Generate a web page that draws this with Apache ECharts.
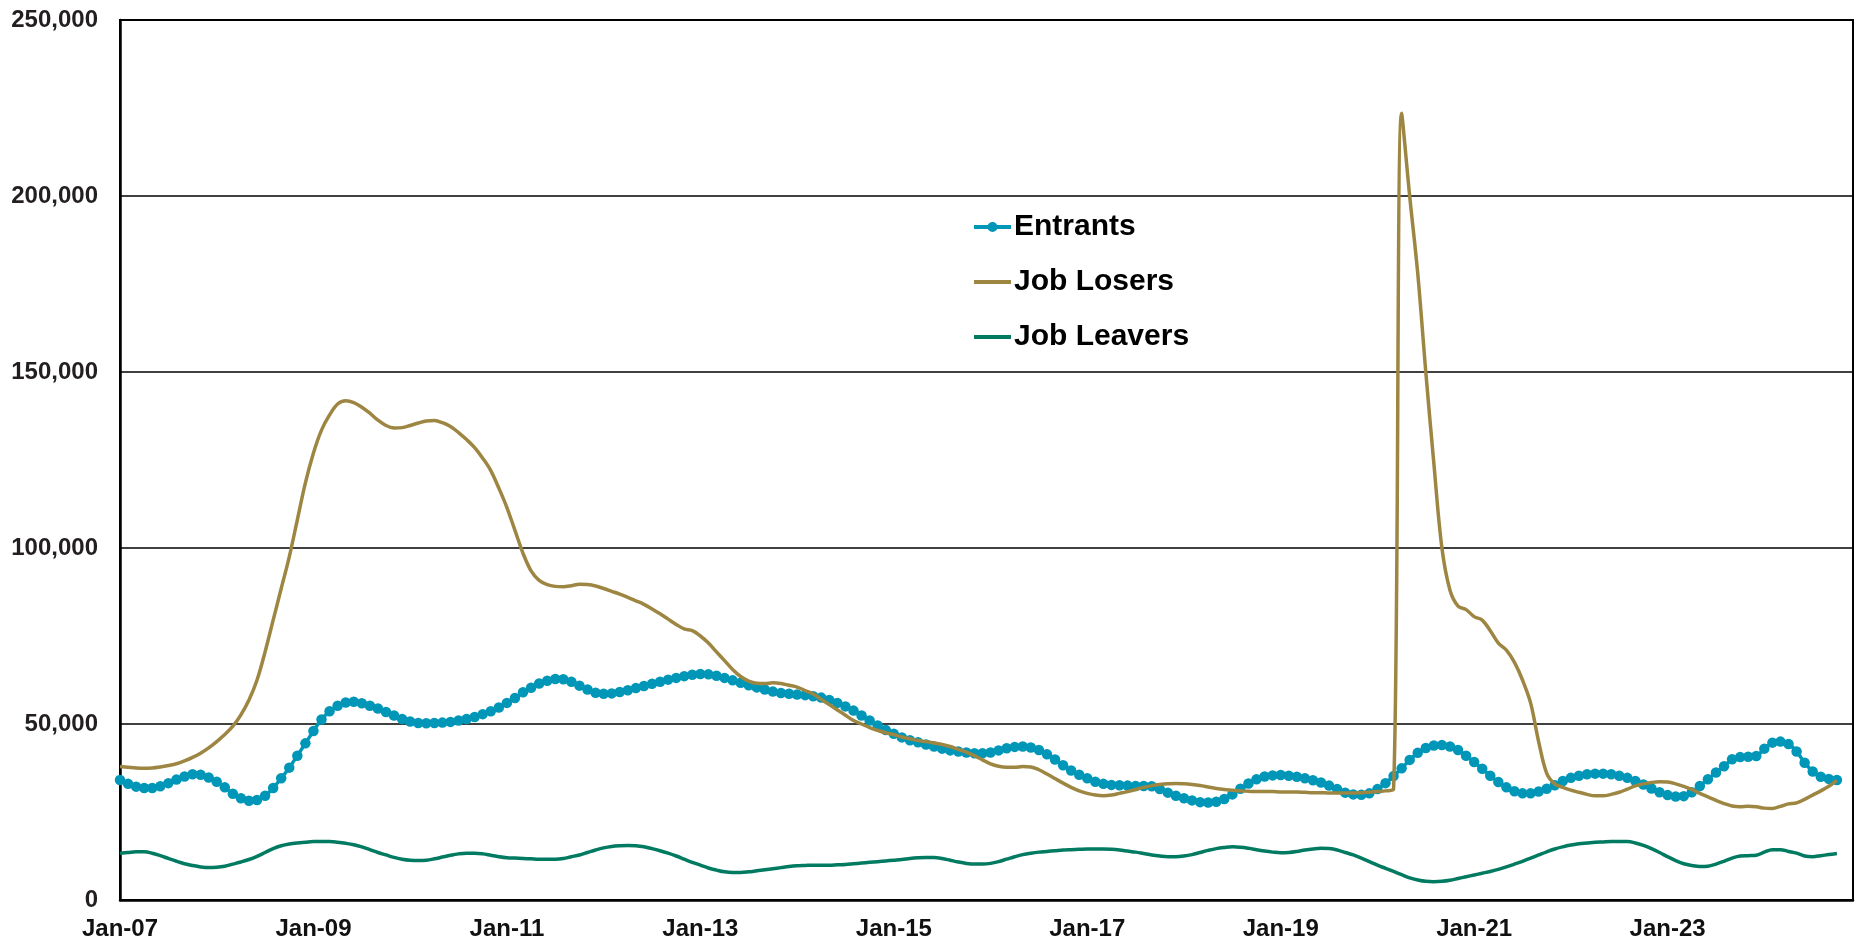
<!DOCTYPE html>
<html>
<head>
<meta charset="utf-8">
<script src="https://cdn.jsdelivr.net/npm/echarts@6/dist/echarts.min.js"></script>
<style>
html,body{margin:0;padding:0;background:#fff;}
#chart{width:1856px;height:945px;}
</style>
</head>
<body>
<div id="chart"></div>
<script>
// Monthly categories Jan-07 .. Dec-24 (data runs Jan-07 .. Oct-24)
const monthNames = ['Jan','Feb','Mar','Apr','May','Jun','Jul','Aug','Sep','Oct','Nov','Dec'];
const startYear = 2007, endYear = 2024;
const categories = [];
for (let y = startYear; y <= endYear; y++) {
  for (let m = 0; m < 12; m++) categories.push(monthNames[m] + '-' + String(y % 100).padStart(2, '0'));
}

// Values in thousands
const entrants = [
34.1,33.0,32.2,31.8,31.8,32.3,33.2,34.2,35.1,35.7,35.6,34.8,
33.6,32.0,30.2,28.9,28.2,28.4,29.6,31.8,34.6,37.6,41.0,44.5,
48.0,51.3,53.6,55.2,56.1,56.3,55.9,55.2,54.4,53.4,52.4,51.4,
50.7,50.3,50.2,50.3,50.4,50.6,51.0,51.4,52.0,52.8,53.6,54.7,
56.0,57.4,59.0,60.3,61.5,62.3,62.8,62.7,62.0,60.9,59.8,58.9,
58.6,58.7,59.1,59.6,60.2,60.8,61.4,62.0,62.6,63.1,63.6,64.0,
64.2,64.1,63.7,63.1,62.4,61.7,61.0,60.4,59.8,59.2,58.8,58.6,
58.4,58.2,57.9,57.5,56.8,56.0,55.0,53.8,52.4,51.0,49.6,48.3,
47.2,46.2,45.4,44.8,44.2,43.6,43.0,42.5,42.2,41.9,41.7,41.7,
41.9,42.5,43.1,43.5,43.6,43.3,42.6,41.4,39.9,38.3,36.8,35.6,
34.6,33.6,33.0,32.7,32.6,32.5,32.4,32.4,32.3,31.5,30.5,29.6,
28.9,28.3,27.8,27.7,27.9,28.7,30.0,31.6,33.1,34.3,35.1,35.4,
35.5,35.3,35.0,34.6,34.0,33.4,32.5,31.5,30.5,30.0,29.9,30.3,
31.5,33.2,35.2,37.4,39.8,41.8,43.2,43.9,44.0,43.6,42.6,41.0,
39.2,37.3,35.3,33.5,32.0,30.9,30.3,30.3,30.8,31.6,32.6,33.8,
34.7,35.3,35.7,35.9,35.9,35.7,35.3,34.7,33.8,32.8,31.7,30.6,
29.8,29.4,29.5,30.6,32.4,34.3,36.2,38.0,40.0,40.6,40.7,40.9,
43.0,44.7,45.0,44.3,42.2,39.0,36.5,35.0,34.4,34.1
];

const jobLosers = [
37.9,37.7,37.5,37.4,37.5,37.8,38.2,38.7,39.5,40.5,41.7,43.2,
45.0,47.0,49.4,52.6,56.8,62.5,70.5,79.5,88.5,97.5,108.0,118.5,
127.0,133.5,137.8,140.9,141.8,141.3,140.0,138.3,136.3,134.8,134.1,134.2,
134.8,135.5,136.1,136.2,135.6,134.5,132.8,130.8,128.5,125.5,122.0,117.0,
111.5,105.0,98.5,93.5,90.8,89.6,89.1,89.0,89.3,89.7,89.6,89.2,
88.5,87.7,86.9,86.0,85.0,84.0,82.7,81.3,79.8,78.3,77.0,76.5,
75.0,73.0,70.5,68.0,65.5,63.5,62.2,61.6,61.5,61.7,61.5,61.0,
60.5,59.5,58.5,57.0,55.5,54.0,52.5,51.0,50.0,49.0,48.2,47.5,
47.0,46.3,45.8,45.3,45.0,44.6,44.2,43.6,42.8,42.0,41.0,39.8,
38.7,38.0,37.7,37.7,37.9,37.8,37.0,35.8,34.5,33.2,32.0,31.0,
30.3,29.8,29.6,29.8,30.3,30.8,31.4,32.0,32.5,32.8,33.0,33.1,
33.0,32.8,32.5,32.1,31.7,31.4,31.2,31.0,30.9,30.8,30.8,30.8,
30.7,30.7,30.7,30.6,30.5,30.5,30.4,30.4,30.4,30.4,30.5,30.6,
30.8,31.0,31.5,223.5,200.0,178.0,150.0,124.0,100.0,88.0,83.5,82.5,
80.5,79.5,76.5,73.0,71.0,67.5,62.5,56.0,45.0,36.0,33.0,32.0,
31.2,30.6,30.0,29.6,29.6,30.0,30.6,31.5,32.4,33.0,33.4,33.6,
33.5,33.0,32.3,31.4,30.3,29.3,28.3,27.4,26.7,26.5,26.6,26.5,
26.1,26.0,26.6,27.3,27.6,28.6,29.8,31.0,32.3,34.0
];

const jobLeavers = [
13.3,13.5,13.7,13.7,13.3,12.6,11.8,11.0,10.3,9.8,9.4,9.2,
9.3,9.6,10.2,10.8,11.5,12.4,13.5,14.6,15.4,15.9,16.2,16.4,
16.6,16.6,16.6,16.4,16.1,15.7,15.1,14.3,13.5,12.8,12.1,11.6,
11.3,11.2,11.3,11.7,12.2,12.7,13.1,13.3,13.3,13.1,12.7,12.3,
12.0,11.9,11.8,11.7,11.6,11.6,11.6,11.8,12.3,12.8,13.5,14.2,
14.8,15.2,15.4,15.5,15.4,15.1,14.6,14.0,13.3,12.5,11.6,10.7,
9.9,9.1,8.5,8.0,7.8,7.8,8.0,8.3,8.6,8.9,9.2,9.5,
9.7,9.8,9.9,9.9,9.9,10.0,10.1,10.3,10.5,10.7,10.9,11.1,
11.3,11.5,11.8,12.0,12.1,12.1,11.8,11.3,10.8,10.4,10.2,10.2,
10.4,10.9,11.6,12.3,12.9,13.3,13.6,13.8,14.0,14.2,14.3,14.4,
14.5,14.5,14.5,14.4,14.2,13.9,13.6,13.2,12.8,12.5,12.3,12.3,
12.5,12.9,13.5,14.1,14.6,14.9,15.1,15.0,14.7,14.3,13.9,13.6,
13.4,13.5,13.8,14.2,14.5,14.7,14.6,14.2,13.5,12.8,11.9,10.9,
9.9,9.0,8.1,7.2,6.3,5.7,5.3,5.2,5.3,5.6,6.1,6.6,
7.1,7.6,8.1,8.7,9.4,10.2,11.0,11.9,12.8,13.7,14.5,15.1,
15.6,16.0,16.2,16.4,16.5,16.6,16.6,16.6,16.2,15.5,14.6,13.5,
12.3,11.2,10.3,9.8,9.5,9.6,10.2,11.0,11.9,12.5,12.6,12.7,
13.6,14.3,14.3,13.8,13.3,12.5,12.3,12.6,12.9,13.2
];

const seriesNames = ['Entrants', 'Job Losers', 'Job Leavers'];
const yTicks = { min: 0, max: 250000, interval: 50000 };
const colors = ['#0096b7', '#9d8542', '#007a60'];

const toUnits = a => a.map(v => Math.round(v * 1000));
const fontFam = '"Liberation Sans", Arial, Helvetica, sans-serif';

// legend icons: line with dot, and plain lines
const iconDotLine = 'path://M0,4.1L13.8,4.1L13.8,7.9L0,7.9Z M23.2,4.1L37,4.1L37,7.9L23.2,7.9Z M13.5,6A5,5 0 1 1 23.5,6A5,5 0 1 1 13.5,6Z';
const iconLine = 'path://M0,0L37,0L37,4L0,4Z';

const chart = echarts.init(document.getElementById('chart'), null, { renderer: 'canvas' });
chart.setOption({
  animation: false,
  backgroundColor: '#ffffff',
  grid: {
    left: 120, right: 3, top: 20, bottom: 45,
    show: true, borderColor: '#000', borderWidth: 2, containLabel: false
  },
  legend: {
    orient: 'vertical',
    left: 969, top: 207,
    itemWidth: 37, itemHeight: 12, itemGap: 25,
    symbolKeepAspect: true,
    data: [
      { name: seriesNames[0], icon: iconDotLine },
      { name: seriesNames[1], icon: iconLine },
      { name: seriesNames[2], icon: iconLine }
    ],
    textStyle: { fontFamily: fontFam, fontWeight: 'bold', fontSize: 30, color: '#000', lineHeight: 30, padding: [0,0,0,-2] }
  },
  xAxis: {
    type: 'category',
    data: categories,
    boundaryGap: false,
    axisLine: { show: true, lineStyle: { color: '#000', width: 2.5 } },
    axisTick: { show: false },
    axisLabel: {
      interval: 23, margin: 17,
      fontFamily: fontFam, fontWeight: 'bold', fontSize: 24, color: '#111'
    },
    splitLine: { show: false }
  },
  yAxis: {
    type: 'value',
    min: yTicks.min, max: yTicks.max, interval: yTicks.interval,
    axisLine: { show: true, lineStyle: { color: '#000', width: 2.5 } },
    axisTick: { show: false },
    axisLabel: {
      margin: 22,
      fontFamily: fontFam, fontWeight: 'bold', fontSize: 24, color: '#231f20',
      formatter: v => v.toLocaleString('en-US')
    },
    splitLine: { show: true, lineStyle: { color: '#000', width: 1.5 } }
  },
  series: [
    {
      name: seriesNames[0], type: 'line', data: toUnits(entrants),
      smooth: 0.35, symbol: 'circle', symbolSize: 10.5, showAllSymbol: true,
      lineStyle: { color: colors[0], width: 3.5 },
      itemStyle: { color: colors[0], borderWidth: 0 },
      z: 2
    },
    {
      name: seriesNames[1], type: 'line', data: toUnits(jobLosers),
      smooth: 0.35, symbol: 'none', showSymbol: false,
      lineStyle: { color: colors[1], width: 3.5 },
      itemStyle: { color: colors[1] },
      z: 3
    },
    {
      name: seriesNames[2], type: 'line', data: toUnits(jobLeavers),
      smooth: 0.35, symbol: 'none', showSymbol: false,
      lineStyle: { color: colors[2], width: 3.5 },
      itemStyle: { color: colors[2] },
      z: 3
    }
  ]
});
</script>
</body>
</html>
